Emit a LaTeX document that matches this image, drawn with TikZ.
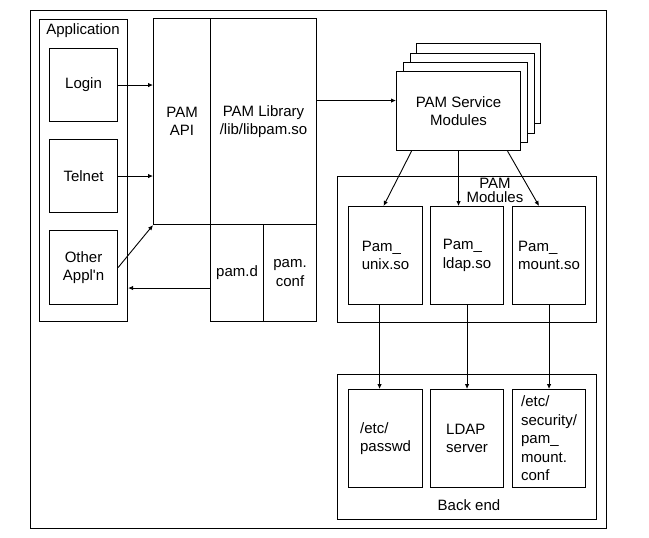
\documentclass[tikz,border=0pt]{standalone}
\usepackage{fontspec}
\setmainfont{Liberation Sans}
\usetikzlibrary{arrows.meta}
\begin{document}
\begin{tikzpicture}[x=1pt,y=-1pt,
  every node/.style={font=\fontsize{15}{18.5}\selectfont},
  ln/.style={line width=1.1pt},
  box/.style={draw,line width=1.1pt,inner sep=0pt,anchor=north west,align=center},
  lbox/.style={box,align=left},
  arr/.style={line width=0.9pt,-{Latex[length=5pt,width=4.5pt]}}]
\useasboundingbox (0,0) rectangle (649,538);
\node[box,minimum width=576pt,minimum height=518pt] (frame) at (30,10) {};
% Application
\node[box,minimum width=88pt,minimum height=302pt] (app) at (39,19) {};
\node (applbl) at (83,31) {Application};
\node[box,minimum width=68pt,minimum height=73pt] (login) at (49,48) {Login};
\node[box,minimum width=68pt,minimum height=73pt] (telnet) at (49,139) {Telnet};
\node[box,minimum width=68pt,minimum height=74pt] (other) at (49,230) {Other\\Appl\textquotesingle n};
% PAM
\node[box,minimum width=57pt,minimum height=206pt] (api) at (153,18) {PAM\\API};
\node[box,minimum width=106pt,minimum height=206pt] (lib) at (210,18) {PAM Library\\/lib/libpam.so};
\node[box,minimum width=53pt,minimum height=97pt] (pamd) at (210,224) {pam.d};
\node[box,minimum width=53pt,minimum height=97pt] (pamconf) at (263,224) {pam.\\conf};
% service modules stack
\node[box,fill=white,minimum width=124pt,minimum height=80pt] (svc4) at (416,43) {};
\node[box,fill=white,minimum width=124pt,minimum height=80pt] (svc3) at (409.5,52.5) {};
\node[box,fill=white,minimum width=124pt,minimum height=80pt] (svc2) at (403,62) {};
\node[box,fill=white,minimum width=124pt,minimum height=79pt] (svc) at (396,71) {PAM Service\\Modules};
% PAM modules
\node[box,minimum width=259pt,minimum height=146pt] (mods) at (337,176) {};
\node[align=center,font=\fontsize{15}{14}\selectfont] (modlbl) at (495,190) {PAM\\Modules};
\node[box,minimum width=74pt,minimum height=98pt] (unix) at (348,206) {};
\node[align=left] at (unix.center) {Pam\_\\unix.so};
\node[box,minimum width=73pt,minimum height=98pt] (ldap) at (430,206) {};
\node[align=left] at (ldap.center) {Pam\_\\ldap.so};
\node[box,minimum width=73pt,minimum height=98pt] (mount) at (512,206) {};
\node[align=left] at (mount.center) {Pam\_\\mount.so};
% Back end
\node[box,minimum width=259pt,minimum height=145pt] (back) at (337,374) {};
\node (backlbl) at (469,505) {Back end};
\node[box,minimum width=74pt,minimum height=98pt] (passwd) at (348,389) {};
\node[align=left] at (passwd.center) {/etc/\\passwd};
\node[box,minimum width=73pt,minimum height=98pt] (ldapsrv) at (430,389) {};
\node[align=left] at (ldapsrv.center) {LDAP\\server};
\node[box,minimum width=73pt,minimum height=98pt] (mconf) at (512,389) {};
\node[align=left] at (mconf.center) {/etc/\\security/\\pam\_\\mount.\\conf};
% arrows
\draw[arr] (login.east) -- (login.east -| api.west);
\draw[arr] (telnet.east) -- (telnet.east -| api.west);
\draw[arr] (other.east) -- (api.south west);
\coordinate (pd) at ([yshift=-15pt]pamd.west);
\draw[arr] (pd) -- (pd -| app.east);
\coordinate (lb) at ([yshift=21pt]lib.east);
\draw[arr] (lb) -- (lb -| svc.west);
\draw[arr] ([xshift=-47pt]svc.south) -- ([xshift=-2pt]unix.north);
\draw[arr] (svc.south) -- (svc.south |- ldap.north);
\draw[arr] ([xshift=49pt]svc.south) -- ([xshift=-10pt]mount.north);
\coordinate (us) at ([xshift=-6pt]unix.south);
\draw[arr] (us) -- (us |- passwd.north);
\draw[arr] (ldap.south) -- (ldap.south |- ldapsrv.north);
\draw[arr] (mount.south) -- (mount.south |- mconf.north);
\end{tikzpicture}
\end{document}
